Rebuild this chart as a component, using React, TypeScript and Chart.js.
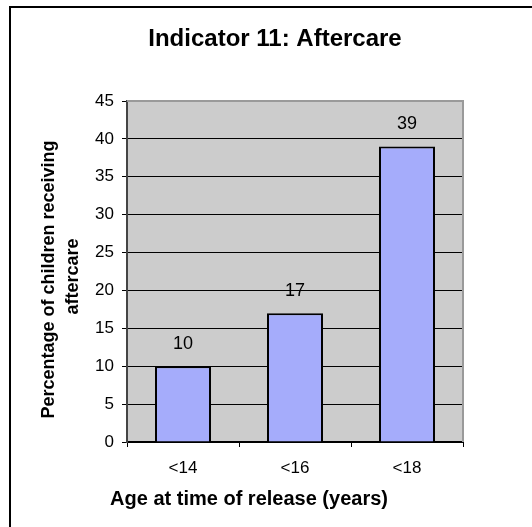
import React, { useEffect, useRef } from "react";
import { Chart, registerables } from "chart.js";

Chart.register(...registerables);

const chartTitle = "Indicator 11: Aftercare";
const categories = ["<14", "<16", "<18"];
const values = [10, 17, 39];
const yTitleLines = ["Percentage of children receiving", "aftercare"];
const xTitle = "Age at time of release (years)";
const yMin = 0;
const yMax = 45;
const yStep = 5;

const FONT = "'Liberation Sans', Arial, sans-serif";

const decorPlugin = {
  id: "decor",
  beforeDraw(chart: any) {
    const { ctx, chartArea } = chart;
    ctx.save();
    ctx.fillStyle = "#000";
    ctx.fillRect(9, 6, 2, 600);
    ctx.fillRect(9, 6, 600, 2);
    ctx.fillStyle = "#CCCCCC";
    ctx.fillRect(chartArea.left, chartArea.top, chartArea.right - chartArea.left, chartArea.bottom - chartArea.top);
    ctx.restore();
  },
  beforeDatasetsDraw(chart: any) {
    const { ctx, chartArea } = chart;
    ctx.save();
    ctx.strokeStyle = "#9A9A9A";
    ctx.lineWidth = 2;
    ctx.beginPath();
    ctx.moveTo(chartArea.left, chartArea.top);
    ctx.lineTo(chartArea.right, chartArea.top);
    ctx.lineTo(chartArea.right, chartArea.bottom);
    ctx.stroke();
    ctx.restore();
  },
  afterDraw(chart: any) {
    const { ctx, chartArea } = chart;
    ctx.save();
    ctx.fillStyle = "#000";
    ctx.font = `bold 24px ${FONT}`;
    ctx.textAlign = "center";
    ctx.textBaseline = "alphabetic";
    ctx.fillText(chartTitle, 275, 46);
    ctx.font = `18px ${FONT}`;
    const meta = chart.getDatasetMeta(0);
    meta.data.forEach((bar: any, i: number) => {
      ctx.fillText(String(values[i]), bar.x, bar.y - 17);
    });
    ctx.font = `bold 20px ${FONT}`;
    ctx.fillText(xTitle, 249, 505);
    ctx.font = `bold 18px ${FONT}`;
    const cy = (chartArea.top + chartArea.bottom) / 2 + 8;
    ctx.save();
    ctx.translate(54, cy);
    ctx.rotate(-Math.PI / 2);
    ctx.fillText(yTitleLines[0], 0, 0);
    ctx.restore();
    ctx.save();
    ctx.translate(78, cy - 3);
    ctx.rotate(-Math.PI / 2);
    ctx.fillText(yTitleLines[1], 0, 0);
    ctx.restore();
    ctx.restore();
  },
};

export default function App() {
  const ref = useRef<HTMLCanvasElement>(null);
  useEffect(() => {
    if (!ref.current) return;
    const chart = new Chart(ref.current, {
      type: "bar",
      data: {
        labels: categories,
        datasets: [
          {
            data: values,
            backgroundColor: "#A5ACFB",
            borderColor: "#000000",
            borderWidth: 2,
            barPercentage: 0.5,
            categoryPercentage: 1,
          },
        ],
      },
      options: {
        responsive: false,
        animation: false,
        devicePixelRatio: 1,
        layout: { padding: { top: 101, right: 69, left: 0, bottom: 0 } },
        plugins: {
          legend: { display: false },
          tooltip: { enabled: false },
          title: { display: false },
        },
        scales: {
          x: {
            offset: true,
            grid: {
              offset: true,
              drawOnChartArea: false,
              drawTicks: true,
              tickLength: 5,
              tickColor: "#000",
              color: "#000",
            },
            border: { color: "#000", width: 2 },
            ticks: {
              color: "#000",
              font: { family: FONT, size: 17 },
              padding: 11,
              maxRotation: 0,
            },
            afterFit(scale: any) {
              scale.height = 85;
            },
          },
          y: {
            min: yMin,
            max: yMax,
            grid: {
              color: (c: any) => (c.tick && c.tick.value === yMax ? "rgba(0,0,0,0)" : "#000"),
              tickColor: "#000",
              tickLength: 5,
              lineWidth: 1,
            },
            border: { color: "#444", width: 2 },
            ticks: {
              stepSize: yStep,
              color: "#000",
              font: { family: FONT, size: 17 },
              padding: 8,
            },
            afterFit(scale: any) {
              scale.width = 127;
            },
          },
        },
      },
      plugins: [decorPlugin],
    });
    return () => chart.destroy();
  }, []);
  return (
    <div style={{ position: "fixed", left: 0, top: 0, width: 532, height: 527, background: "#fff" }}>
      <canvas ref={ref} width={532} height={527} style={{ display: "block" }} />
    </div>
  );
}
